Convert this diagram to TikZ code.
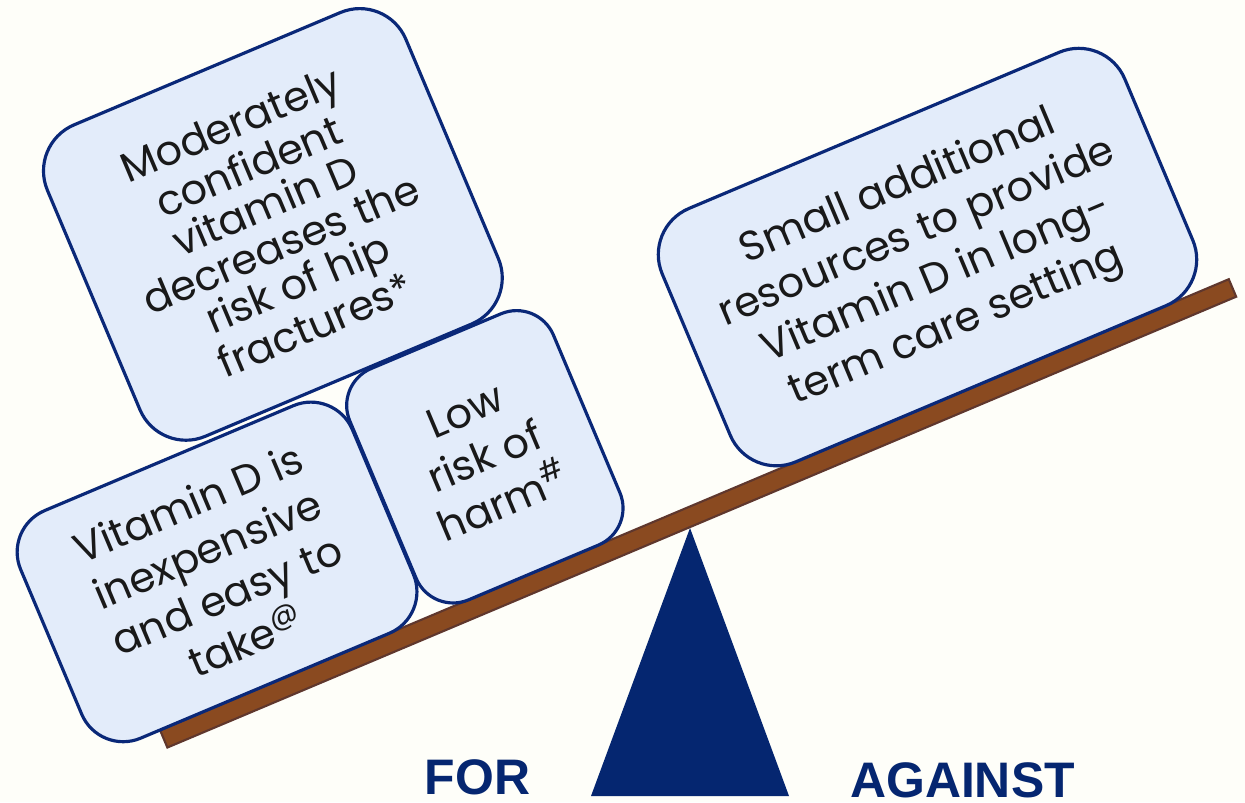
\documentclass[tikz,border=0pt]{standalone}
\usepackage{fontspec}
\setmainfont{Poppins}
\setsansfont{Liberation Sans}
\definecolor{navy}{RGB}{5,38,112}
\definecolor{boxfill}{RGB}{227,236,250}
\definecolor{boxline}{RGB}{10,40,120}
\definecolor{wood}{RGB}{138,74,32}
\definecolor{woodedge}{RGB}{95,55,45}
\definecolor{bgcol}{RGB}{254,254,249}
\definecolor{textcol}{RGB}{25,25,25}
\begin{document}
\begin{tikzpicture}[
  reason/.style={draw=boxline, line width=0.9pt, fill=boxfill,
    rounded corners=#1, align=center, inner sep=0pt, text=textcol,
    font=\fontsize{11.8}{14.2}\selectfont},
  reason/.default=0.5cm,
  side/.style={text=navy, anchor=base, inner sep=0pt,
    font=\sffamily\bfseries\fontsize{14.2}{17}\selectfont}]
  \fill[bgcol] (0, 0) rectangle (12.45, 8.02);
  \useasboundingbox (0, 0) rectangle (12.45, 8.02);
  \fill[navy] (5.91, 0.06) -- (7.89, 0.06) -- (6.90, 2.74) -- cycle;
  \node[side] (for) at (4.775, 0.08) {FOR};
  \node[side] (against) at (9.625, 0.045) {AGAINST};
  \begin{scope}[shift={(1.60, 0.72)}, rotate=22.87, transform shape]
    \filldraw[fill=wood, draw=woodedge, semithick] (0, 0) rectangle (11.60, -0.19);
    \node[reason=0.45cm, minimum width=3.6cm, minimum height=2.47cm]
      (cheap) at (1.14, 1.235) {Vitamin D is\\inexpensive\\and easy to\\take\textsuperscript{@}};
    \node[reason=0.4cm, minimum width=2.21cm, minimum height=2.51cm]
      (harm) at (4.055, 1.255) {Low\\risk of\\harm\textsuperscript{\#}};
    \node[reason, minimum width=3.89cm, minimum height=3.38cm,
      font=\fontsize{11.8}{11.95}\selectfont]
      (hip) at (3.005, 4.22) {Moderately\\confident\\vitamin D\\decreases the\\risk of hip\\fractures*};
    \node[reason, minimum width=5.02cm, minimum height=2.75cm]
      (cost) at (8.91, 1.375) {Small additional\\resources to provide\\Vitamin D in long-\\term care setting};
  \end{scope}
\end{tikzpicture}
\end{document}
